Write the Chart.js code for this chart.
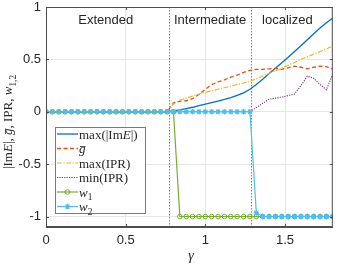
<!DOCTYPE html>
<html>
<head>
<meta charset="utf-8">
<script src="https://cdn.jsdelivr.net/npm/chart.js@4.4.0/dist/chart.umd.min.js"></script>
<style>
html, body { margin: 0; padding: 0; background: #fff; }
</style>
</head>
<body>
<canvas id="myChart" width="338" height="265"></canvas>
<script>
// gamma grid (x)
const gammaVals = [0, 0.04, 0.08, 0.12, 0.16, 0.2, 0.24, 0.28, 0.32, 0.36, 0.4, 0.44, 0.48, 0.52, 0.56, 0.6, 0.64, 0.68, 0.72, 0.76,
	0.8, 0.84, 0.88, 0.92, 0.96, 1, 1.04, 1.08, 1.12, 1.16, 1.2, 1.24, 1.28, 1.32, 1.36, 1.4, 1.44, 1.48, 1.52, 1.56, 1.6, 1.64, 1.68, 1.72, 1.76, 1.8];

// max(|Im E|)
const maxImE = [0, 0, 0, 0, 0, 0, 0, 0, 0, 0, 0, 0, 0, 0, 0, 0, 0, 0, 0, 0,
	0.008, 0.018, 0.03, 0.043, 0.058, 0.072, 0.087, 0.102, 0.118, 0.136, 0.156, 0.18, 0.215, 0.26, 0.31, 0.365, 0.415, 0.468, 0.52, 0.575, 0.63, 0.688, 0.745, 0.8, 0.85, 0.895];
// g bar
const gBar = [0, 0, 0, 0, 0, 0, 0, 0, 0, 0, 0, 0, 0, 0, 0, 0, 0, 0, 0, 0,
	0.085, 0.1, 0.105, 0.125, 0.165, 0.215, 0.26, 0.285, 0.305, 0.33, 0.35, 0.375, 0.395, 0.405, 0.405, 0.41, 0.415, 0.405, 0.42, 0.435, 0.425, 0.41, 0.425, 0.435, 0.43, 0.41];
// max(IPR)
const maxIPR = [0, 0, 0, 0, 0, 0, 0, 0, 0, 0, 0, 0, 0, 0, 0, 0, 0, 0, 0, 0,
	0.075, 0.11, 0.13, 0.15, 0.17, 0.185, 0.2, 0.215, 0.23, 0.245, 0.26, 0.275, 0.29, 0.315, 0.34, 0.365, 0.39, 0.415, 0.445, 0.47, 0.5, 0.525, 0.55, 0.575, 0.6, 0.63];
// min(IPR)
const minIPR = [0, 0, 0, 0, 0, 0, 0, 0, 0, 0, 0, 0, 0, 0, 0, 0, 0, 0, 0, 0,
	0, 0, 0, 0, 0, 0, 0, 0, 0, 0, 0, 0, 0, 0.04, 0.08, 0.12, 0.13, 0.14, 0.155, 0.17, 0.25, 0.34, 0.32, 0.26, 0.21, 0.36];
// w1, w2
const w1 = [0, 0, 0, 0, 0, 0, 0, 0, 0, 0, 0, 0, 0, 0, 0, 0, 0, 0, 0, 0,
	0, -1, -1, -1, -1, -1, -1, -1, -1, -1, -1, -1, -1, -1, -1, -1, -1, -1, -1, -1, -1, -1, -1, -1, -1, -1];
const w2 = [0, 0, 0, 0, 0, 0, 0, 0, 0, 0, 0, 0, 0, 0, 0, 0, 0, 0, 0, 0,
	0, 0, 0, 0, 0, 0, 0, 0, 0, 0, 0, 0, 0, -0.965, -1, -1, -1, -1, -1, -1, -1, -1, -1, -1, -1, -1];

const xTicks = [0, 0.5, 1, 1.5];
const yTicks = [-1, -0.5, 0, 0.5, 1];
const phaseBounds = [0.775, 1.287];
const phaseNames = ['Extended', 'Intermediate', 'localized'];
const phaseMid = [0.375, 1.03, 1.515];

const sans = '"Liberation Sans", Arial, sans-serif';
const serif = '"Liberation Serif", "Times New Roman", serif';
const axisCol = '#4d4d4d';

function pts(ys) {
	return ys.map((y, i) => ({ x: gammaVals[i], y: y }));
}

// draw pieces of text: [text, italic, sub, overline]
function richText(ctx, parts, x, y, size) {
	let cx = x;
	parts.forEach((p) => {
		const sz = p[2] ? size * 0.72 : size;
		ctx.font = (p[1] ? 'italic ' : '') + sz + 'px ' + serif;
		const dy = p[2] ? size * 0.3 : 0;
		ctx.fillText(p[0], cx, y + dy);
		const w = ctx.measureText(p[0]).width;
		if (p[3]) {
			ctx.save();
			ctx.lineWidth = 0.8;
			ctx.beginPath();
			ctx.moveTo(cx + 1, y - size * 0.5);
			ctx.lineTo(cx + w, y - size * 0.5);
			ctx.strokeStyle = ctx.fillStyle;
			ctx.stroke();
			ctx.restore();
		}
		cx += w;
	});
	return cx - x;
}

function partsWidth(ctx, parts, size) {
	let w = 0;
	parts.forEach((p) => {
		const sz = p[2] ? size * 0.72 : size;
		ctx.font = (p[1] ? 'italic ' : '') + sz + 'px ' + serif;
		w += ctx.measureText(p[0]).width;
	});
	return w;
}

const extras = {
	id: 'extras',
	beforeDatasetsDraw(chart) {
		const ctx = chart.ctx;
		const xs = chart.scales.x;
		const a = chart.chartArea;
		ctx.save();
		// phase boundaries
		ctx.strokeStyle = '#666';
		ctx.lineWidth = 0.8;
		ctx.setLineDash([1.5, 1.5]);
		phaseBounds.forEach((g) => {
			const px = Math.round(xs.getPixelForValue(g)) + 0.5;
			ctx.beginPath();
			ctx.moveTo(px, a.top);
			ctx.lineTo(px, a.bottom);
			ctx.stroke();
		});
		ctx.setLineDash([]);
		// phase names
		ctx.fillStyle = '#262626';
		ctx.font = '13px ' + sans;
		ctx.textAlign = 'center';
		ctx.textBaseline = 'middle';
		phaseNames.forEach((n, i) => {
			ctx.fillText(n, xs.getPixelForValue(phaseMid[i]), 20);
		});
		ctx.restore();
	},
	afterDraw(chart) {
		const ctx = chart.ctx;
		const xs = chart.scales.x, ys = chart.scales.y;
		const a = chart.chartArea;
		ctx.save();
		// box + inner ticks
		ctx.strokeStyle = axisCol;
		ctx.lineWidth = 1;
		ctx.strokeRect(a.left + 0.5, a.top + 0.5, a.right - a.left - 1, a.bottom - a.top - 1);
		xTicks.forEach((v) => {
			const px = Math.round(xs.getPixelForValue(v)) + 0.5;
			ctx.beginPath();
			ctx.moveTo(px, a.bottom); ctx.lineTo(px, a.bottom - 3);
			ctx.moveTo(px, a.top); ctx.lineTo(px, a.top + 3);
			ctx.stroke();
		});
		yTicks.forEach((v) => {
			const py = Math.round(ys.getPixelForValue(v)) + 0.5;
			ctx.beginPath();
			ctx.moveTo(a.left, py); ctx.lineTo(a.left + 3, py);
			ctx.moveTo(a.right, py); ctx.lineTo(a.right - 3, py);
			ctx.stroke();
		});

		// legend
		const lx = 55, ly = 127, lw = 90, lh = 86;
		ctx.fillStyle = '#fff';
		ctx.fillRect(lx, ly, lw, lh);
		ctx.strokeStyle = '#7a7a7a';
		ctx.strokeRect(lx + 0.5, ly + 0.5, lw, lh);
		const items = [
			{ ds: 0, parts: [['max(|Im', false], ['E', true], ['|)', false]] },
			{ ds: 1, parts: [['g', true, false, true]] },
			{ ds: 2, parts: [['max(IPR)', false]] },
			{ ds: 3, parts: [['min(IPR)', false]] },
			{ ds: 4, parts: [['w', true], ['1', false, true]] },
			{ ds: 5, parts: [['w', true], ['2', false, true]] },
		];
		ctx.textBaseline = 'alphabetic';
		ctx.textAlign = 'left';
		items.forEach((it, i) => {
			const yy = 134 + i * 14.5;
			const d = chart.data.datasets[it.ds];
			ctx.strokeStyle = d.borderColor;
			ctx.lineWidth = d.borderWidth;
			ctx.setLineDash(d.borderDash || []);
			ctx.beginPath();
			ctx.moveTo(57, yy);
			ctx.lineTo(78, yy);
			ctx.stroke();
			ctx.setLineDash([]);
			if (d.pointRadius > 0) {
				ctx.fillStyle = d.pointBackgroundColor;
				ctx.strokeStyle = d.pointBorderColor;
				ctx.lineWidth = d.pointBorderWidth;
				Chart.helpers.drawPoint(ctx, {
					pointStyle: d.pointStyle,
					radius: d.pointRadius,
					borderWidth: d.pointBorderWidth,
				}, 67.5, yy);
			}
			ctx.fillStyle = '#262626';
			richText(ctx, it.parts, 79, yy + 4.5, 13);
		});

		// y axis title
		const yParts = [['|Im', false], ['E', true], ['|, ', false], ['g', true, false, true], [', IPR, ', false], ['w', true], ['1,2', false, true]];
		const tw = partsWidth(ctx, yParts, 13);
		ctx.save();
		ctx.translate(12, 122);
		ctx.rotate(-Math.PI / 2);
		ctx.fillStyle = '#262626';
		richText(ctx, yParts, -tw / 2, 0, 13);
		ctx.restore();

		// x axis title
		ctx.fillStyle = '#262626';
		ctx.font = 'italic 14px ' + serif;
		ctx.textAlign = 'center';
		ctx.fillText('\u03b3', 191, 260);
		ctx.restore();
	},
};

const chartArea = document.getElementById('myChart').getContext('2d');
const myChart = new Chart(chartArea, {
	type: 'line',
	data: {
		datasets: [
			{ data: pts(maxImE), borderColor: '#0072BD', borderWidth: 1.3, pointRadius: 0, order: 6 },
			{ data: pts(gBar), borderColor: '#D95319', borderWidth: 1.3, borderDash: [4, 2.5], pointRadius: 0, order: 5 },
			{ data: pts(maxIPR), borderColor: '#EDB120', borderWidth: 1.1, borderDash: [5, 1.5, 1.2, 1.5], pointRadius: 0, order: 4 },
			{ data: pts(minIPR), borderColor: '#7E2F8E', borderWidth: 1.1, borderDash: [1.2, 1.2], pointRadius: 0, order: 3 },
			{
				data: pts(w1), borderColor: '#77AC30', borderWidth: 1.2, pointStyle: 'circle', pointRadius: 2.3,
				pointBorderWidth: 1, pointBackgroundColor: 'rgba(0,0,0,0)', pointBorderColor: '#77AC30', order: 2,
			},
			{
				data: pts(w2), borderColor: '#4DBEEE', borderWidth: 1.2, pointStyle: 'star', pointRadius: 2.8,
				pointBorderWidth: 1.2, pointBackgroundColor: '#4DBEEE', pointBorderColor: '#4DBEEE', order: 1,
			},
		],
	},
	options: {
		responsive: false,
		animation: false,
		layout: { padding: { top: 7, right: 2, left: 0, bottom: 0 } },
		plugins: { legend: { display: false }, tooltip: { enabled: false } },
		elements: { line: { tension: 0 } },
		scales: {
			x: {
				type: 'linear',
				min: 0,
				max: 1.8,
				afterBuildTicks: (s) => { s.ticks = xTicks.map((v) => ({ value: v })); },
				afterFit: (s) => { s.height = 38; s.paddingLeft = 0; s.paddingRight = 0; },
				ticks: { font: { family: sans, size: 13 }, color: '#262626', padding: 6, maxRotation: 0, callback: (v) => String(v) },
				grid: { color: '#e6e6e6', drawTicks: false },
				border: { color: axisCol },
			},
			y: {
				type: 'linear',
				min: -1.1,
				max: 1,
				afterBuildTicks: (s) => { s.ticks = yTicks.map((v) => ({ value: v })); },
				afterFit: (s) => { s.width = 46; s.paddingTop = 0; s.paddingBottom = 0; },
				ticks: { font: { family: sans, size: 13 }, color: '#262626', padding: 5, callback: (v) => String(v) },
				grid: { color: '#e6e6e6', drawTicks: false },
				border: { color: axisCol },
			},
		},
	},
	plugins: [extras],
});
</script>
</body>
</html>
